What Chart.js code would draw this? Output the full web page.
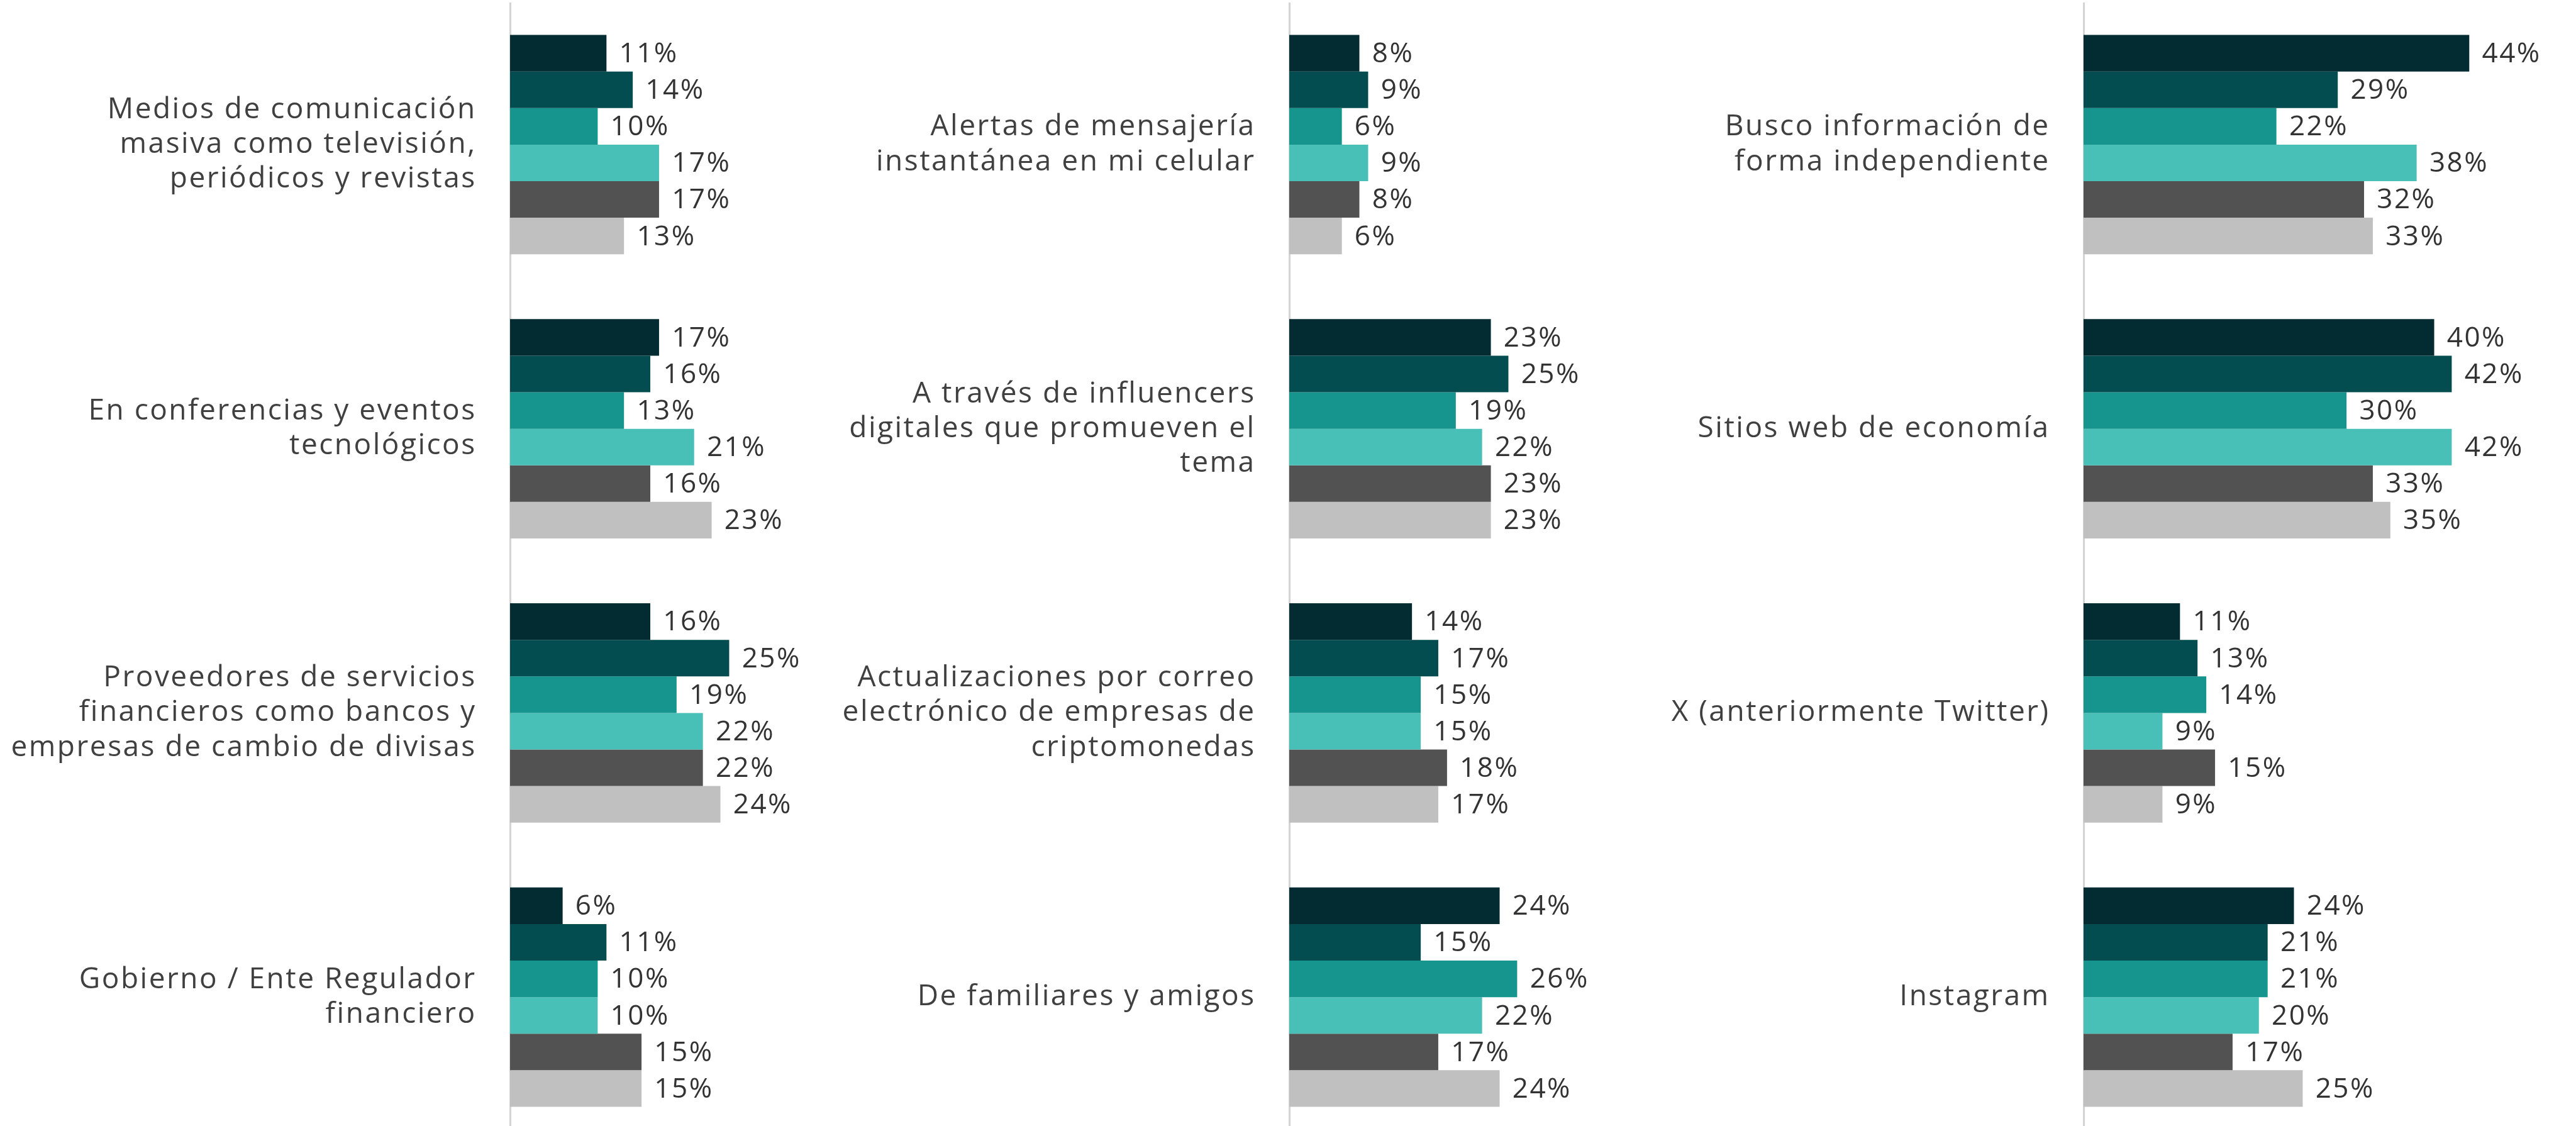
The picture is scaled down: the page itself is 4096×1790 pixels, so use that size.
<!DOCTYPE html>
<html lang="es">
<head>
<meta charset="utf-8">
<script src="https://cdn.jsdelivr.net/npm/chart.js@4.4.1/dist/chart.umd.min.js"></script>
<style>
  html, body { margin: 0; padding: 0; background: #ffffff; overflow: hidden; }
  body { width: 4096px; height: 1790px; position: relative; }
  canvas { position: absolute; }
</style>
</head>
<body>
<script>
// Categorías y valores (%) por panel; seis series por categoría
const categorias1 = [
    ['Medios de comunicación', 'masiva como televisión,', 'periódicos y revistas'],
    ['En conferencias y eventos', 'tecnológicos'],
    ['Proveedores de servicios', 'financieros como bancos y', 'empresas de cambio de divisas'],
    ['Gobierno / Ente Regulador', 'financiero']
];
const valores1 = [
    [11, 17, 16, 6],
    [14, 16, 25, 11],
    [10, 13, 19, 10],
    [17, 21, 22, 10],
    [17, 16, 22, 15],
    [13, 23, 24, 15]
];

const categorias2 = [
    ['Alertas de mensajería', 'instantánea en mi celular'],
    ['A través de influencers', 'digitales que promueven el', 'tema'],
    ['Actualizaciones por correo', 'electrónico de empresas de', 'criptomonedas'],
    ['De familiares y amigos']
];
const valores2 = [
    [8, 23, 14, 24],
    [9, 25, 17, 15],
    [6, 19, 15, 26],
    [9, 22, 15, 22],
    [8, 23, 18, 17],
    [6, 23, 17, 24]
];

const categorias3 = [
    ['Busco información de', 'forma independiente'],
    ['Sitios web de economía'],
    ['X (anteriormente Twitter)'],
    ['Instagram']
];
const valores3 = [
    [44, 40, 11, 24],
    [29, 42, 13, 21],
    [22, 30, 14, 21],
    [38, 42, 9, 20],
    [32, 33, 15, 17],
    [33, 35, 9, 25]
];

const colores = ['#022b32', '#034c50', '#16948e', '#48c0b8', '#525252', '#c0c0c0'];

// Escala general del dibujo
const S = 0.92;
const PX_POR_PUNTO = 15.15 * S;
const FUENTE = "'Open Sans', 'Noto Sans', sans-serif";
const ESPACIADO = '2.5px';

// Espaciado de letras para todo el texto del lienzo
const espaciadoTexto = {
    id: 'espaciadoTexto',
    beforeDraw(chart) {
        chart.ctx.letterSpacing = ESPACIADO;
    }
};

// Etiquetas de valor al final de cada barra
const etiquetasValor = {
    id: 'etiquetasValor',
    afterDatasetsDraw(chart) {
        const ctx = chart.ctx;
        ctx.save();
        ctx.letterSpacing = ESPACIADO;
        ctx.font = '400 ' + Math.round(48 * S) + 'px ' + FUENTE;
        ctx.fillStyle = '#333333';
        ctx.textAlign = 'left';
        ctx.textBaseline = 'middle';
        chart.data.datasets.forEach((ds, i) => {
            chart.getDatasetMeta(i).data.forEach((bar, j) => {
                ctx.fillText(ds.data[j] + '%', bar.x + 22 * S, bar.y + 2 * S);
            });
        });
        ctx.restore();
    }
};

function crearPanel(categorias, valores, ejeX, izquierda) {
    const canvas = document.createElement('canvas');
    const anchoEje = ejeX - izquierda;
    const anchoArea = Math.round(800 * S);
    canvas.width = anchoEje + anchoArea;
    canvas.height = Math.round(4 * 491 * S);
    canvas.style.left = izquierda + 'px';
    canvas.style.top = Math.round(4.5 * S) + 'px';
    document.body.appendChild(canvas);

    new Chart(canvas.getContext('2d'), {
        type: 'bar',
        data: {
            labels: categorias,
            datasets: valores.map((serie, i) => ({
                label: 'Serie ' + (i + 1),
                data: serie,
                backgroundColor: colores[i],
                borderWidth: 0,
                categoryPercentage: 379 / 491,
                barPercentage: 1.0
            }))
        },
        options: {
            indexAxis: 'y',
            responsive: false,
            animation: false,
            devicePixelRatio: 1,
            layout: { padding: 0 },
            plugins: {
                legend: { display: false },
                tooltip: { enabled: false }
            },
            scales: {
                x: {
                    display: false,
                    min: 0,
                    max: anchoArea / PX_POR_PUNTO
                },
                y: {
                    afterFit: (scale) => {
                        scale.width = anchoEje;
                        scale.paddingTop = 0;
                        scale.paddingBottom = 0;
                    },
                    grid: { display: false, drawTicks: false },
                    border: { display: true, color: '#d4d4d4', width: 3 },
                    ticks: {
                        autoSkip: false,
                        padding: 58 * S,
                        color: '#404040',
                        font: { family: FUENTE, size: Math.round(50 * S), weight: '400', lineHeight: 1.2 }
                    }
                }
            }
        },
        plugins: [espaciadoTexto, etiquetasValor]
    });
}

crearPanel(categorias1, valores1, Math.round(882 * S), 0);
crearPanel(categorias2, valores2, Math.round(2228 * S), Math.round(1400 * S));
crearPanel(categorias3, valores3, Math.round(3601 * S), Math.round(2850 * S));
</script>
</body>
</html>
